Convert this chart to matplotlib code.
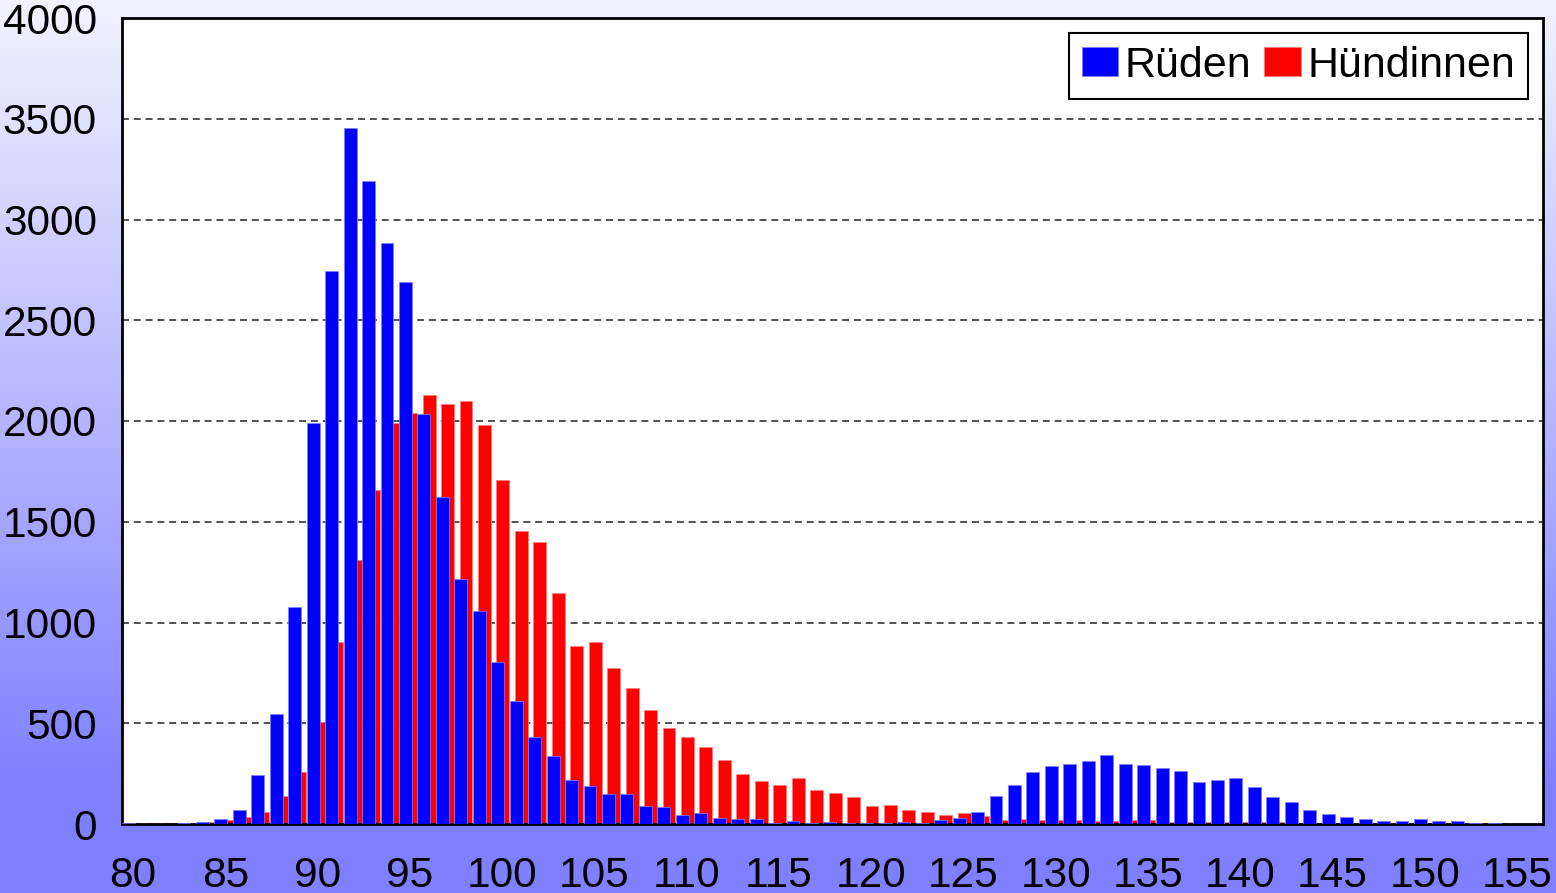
import numpy as np
import matplotlib
matplotlib.use('Agg')
import matplotlib.pyplot as plt

plt.rcParams['font.family'] = ['Liberation Sans', 'DejaVu Sans']
plt.rcParams['lines.scale_dashes'] = False

# Widerristhöhe (cm) und Anzahl
groesse = np.arange(80, 157)
rueden = [5, 2, 2, 7, 11, 27, 70, 245, 545, 1075,
          1988, 2745, 3455, 3193, 2885, 2690, 2033, 1623, 1217, 1058,
          805, 609, 432, 336, 219, 187, 147, 149, 91, 83,
          46, 56, 32, 23, 23, 3, 13, 7, 12, 3,
          3, 3, 8, 3, 18, 30, 58, 138, 193, 258,
          288, 298, 313, 342, 299, 293, 278, 264, 206, 217,
          229, 184, 132, 107, 69, 52, 35, 27, 13, 13,
          23, 13, 13, 3, 3, 2, 2]
huendinnen = [3, 3, 3, 5, 9, 20, 34, 59, 141, 257,
              507, 905, 1310, 1660, 1992, 2040, 2129, 2086, 2099, 1982,
              1709, 1452, 1399, 1146, 884, 904, 772, 674, 565, 474,
              432, 382, 316, 250, 213, 195, 226, 170, 156, 133,
              88, 92, 68, 62, 43, 57, 40, 18, 23, 18,
              22, 18, 13, 13, 22, 18, 10, 8, 8, 8,
              8, 12, 8, 6, 5, 5, 5, 4, 4, 4,
              4, 4, 3, 3, 3, 2, 2]
xticks = np.arange(80, 156, 5)
yticks = np.arange(0, 4001, 500)

fig = plt.figure(figsize=(15.56, 8.93), dpi=100)

# Hintergrund mit Farbverlauf
bg = fig.add_axes([0, 0, 1, 1])
t = np.clip(np.linspace(0, 1, 400) / 0.88, 0, 1)
top = np.array([0.95, 0.95, 1.0])
bottom = np.array([0.5, 0.5, 1.0])
grad = top[None, :] + (bottom - top)[None, :] * t[:, None]
bg.imshow(grad[:, None, :], aspect='auto', extent=[0, 1, 0, 1])
bg.axis('off')

ax = fig.add_axes([122 / 1556, 1 - 824 / 893, 1421 / 1556, 806 / 893])
ax.set_facecolor('white')

ax.bar(groesse + 0.04, huendinnen, width=0.7, color='#ff0000',
       edgecolor='#ff8080', linewidth=0.5, label='Hündinnen', zorder=2)
ax.bar(groesse - 0.24, rueden, width=0.7, color='#0000ff',
       edgecolor='#8080ff', linewidth=0.5, label='Rüden', zorder=3)

for y in yticks[1:-1]:
    ax.axhline(y, color='#333333', linewidth=1.2, linestyle=(0, (5, 3.5)), zorder=1)

ax.set_xlim(79.4, 156.4)
ax.set_ylim(0, 4000)
ax.set_xticks(xticks)
ax.set_yticks(yticks)
ax.tick_params(axis='both', length=0, labelsize=30.5)
ax.tick_params(axis='x', pad=23)
ax.tick_params(axis='y', pad=18)
for s in ax.spines.values():
    s.set_linewidth(2)
    s.set_color('black')

h, l = ax.get_legend_handles_labels()
leg = ax.legend(h[::-1], l[::-1], loc='upper right', ncol=2, fontsize=31,
                frameon=True, fancybox=False, edgecolor='black', framealpha=1,
                handlelength=0.85, handleheight=0.66, handletextpad=0.15,
                columnspacing=0.3, borderpad=0.3, borderaxespad=0.35)
leg.get_frame().set_linewidth(1.5)

fig.savefig('out.png', dpi=100)
